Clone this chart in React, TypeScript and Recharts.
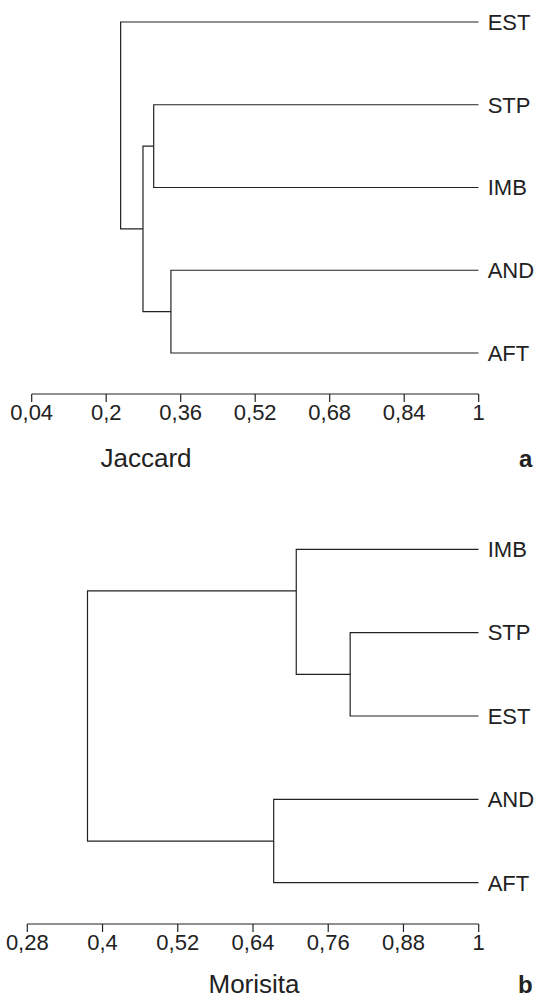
import { ScatterChart, Scatter, XAxis, YAxis } from "recharts";

// Jaccard dendrogram (panel a)
const jaccardLeaves = ["EST", "STP", "IMB", "AND", "AFT"];
const jaccardTicks = [0.04, 0.2, 0.36, 0.52, 0.68, 0.84, 1];
// level = similarity where two groups join, row = where the node's stem attaches
const jaccardMerges = [
  { id: "n1", level: 0.302, row: 1.5, a: "STP", b: "IMB" },
  { id: "n2", level: 0.339, row: 3.5, a: "AND", b: "AFT" },
  { id: "n3", level: 0.279, row: 2.5, a: "n1", b: "n2" },
  { id: "n4", level: 0.231, row: 0.5, a: "EST", b: "n3" },
];

// Morisita dendrogram (panel b)
const morisitaLeaves = ["IMB", "STP", "EST", "AND", "AFT"];
const morisitaTicks = [0.28, 0.4, 0.52, 0.64, 0.76, 0.88, 1];
const morisitaMerges = [
  { id: "m1", level: 0.795, row: 1.5, a: "STP", b: "EST" },
  { id: "m2", level: 0.709, row: 0.5, a: "IMB", b: "m1" },
  { id: "m3", level: 0.673, row: 3.5, a: "AND", b: "AFT" },
  { id: "m4", level: 0.376, row: 2.5, a: "m2", b: "m3" },
];

type Merge = { id: string; level: number; row: number; a: string; b: string };

// turn the merge list into one elbow path per merge
function buildLinks(leaves: string[], merges: Merge[]) {
  const pos: Record<string, { x: number; y: number }> = {};
  leaves.forEach((name, i) => (pos[name] = { x: 1, y: i }));
  return merges.map((m) => {
    const ca = pos[m.a];
    const cb = pos[m.b];
    pos[m.id] = { x: m.level, y: m.row };
    return [
      { x: ca.x, y: ca.y },
      { x: m.level, y: ca.y },
      { x: m.level, y: cb.y },
      { x: cb.x, y: cb.y },
    ];
  });
}

const ink = "#222";
const font = "'Liberation Sans', Arial, Helvetica, sans-serif";
const comma = (v: number) => String(v).replace(".", ",");
const noDot = () => <g />;

interface PanelProps {
  leaves: string[];
  merges: Merge[];
  ticks: number[];
  left: number;
  yDomain: [number, number];
  axisHeight: number;
}

function Dendrogram({ leaves, merges, ticks, left, yDomain, axisHeight }: PanelProps) {
  const links = buildLinks(leaves, merges);
  return (
    <ScatterChart width={538} height={470} margin={{ top: 0, right: 4.3, bottom: 0, left }}>
      <XAxis
        type="number"
        dataKey="x"
        domain={[ticks[0], 1]}
        ticks={ticks}
        allowDataOverflow
        height={axisHeight}
        tickFormatter={comma}
        tickSize={8}
        tickMargin={2}
        axisLine={{ stroke: ink, strokeWidth: 1.2 }}
        tickLine={{ stroke: ink, strokeWidth: 1.2 }}
        tick={{ fill: ink, fontSize: 22, fontFamily: font }}
        interval={0}
      />
      <YAxis
        type="number"
        dataKey="y"
        orientation="right"
        width={55}
        domain={yDomain}
        reversed
        allowDataOverflow
        ticks={[0, 1, 2, 3, 4]}
        tickFormatter={(i: number) => leaves[i]}
        axisLine={false}
        tickLine={false}
        tickSize={7}
        tickMargin={2}
        tick={{ fill: ink, fontSize: 22, fontFamily: font, textAnchor: "start" }}
        interval={0}
      />
      {links.map((pts, i) => (
        <Scatter
          key={i}
          data={pts}
          line={{ stroke: ink, strokeWidth: 1.2 }}
          lineJointType="linear"
          shape={noDot}
          fill={ink}
          isAnimationActive={false}
        />
      ))}
    </ScatterChart>
  );
}

const abs = (left: number, top: number): React.CSSProperties => ({
  position: "absolute",
  left,
  top,
});

export default function App() {
  return (
    <div
      style={{
        position: "absolute",
        left: 0,
        top: 0,
        width: 538,
        height: 1000,
        background: "#fff",
        fontFamily: font,
        color: ink,
        overflow: "hidden",
      }}
    >
      <div style={abs(0, 0)}>
        <Dendrogram
          leaves={jaccardLeaves}
          merges={jaccardMerges}
          ticks={jaccardTicks}
          left={31.7}
          yDomain={[-0.266, 4.4955]}
          axisHeight={76}
        />
      </div>
      <div style={{ ...abs(146, 445), fontSize: 26, lineHeight: "26px", transform: "translateX(-50%)", whiteSpace: "nowrap" }}>
        Jaccard
      </div>
      <div style={{ ...abs(519, 447), fontSize: 24, lineHeight: "24px", fontWeight: "bold" }}>a</div>

      <div style={abs(0, 520)}>
        <Dendrogram
          leaves={morisitaLeaves}
          merges={morisitaMerges}
          ticks={morisitaTicks}
          left={27.3}
          yDomain={[-0.3515, 4.4955]}
          axisHeight={66}
        />
      </div>
      <div style={{ ...abs(254, 971), fontSize: 26, lineHeight: "26px", transform: "translateX(-50%)", whiteSpace: "nowrap" }}>
        Morisita
      </div>
      <div style={{ ...abs(518, 973), fontSize: 24, lineHeight: "24px", fontWeight: "bold" }}>b</div>
    </div>
  );
}
